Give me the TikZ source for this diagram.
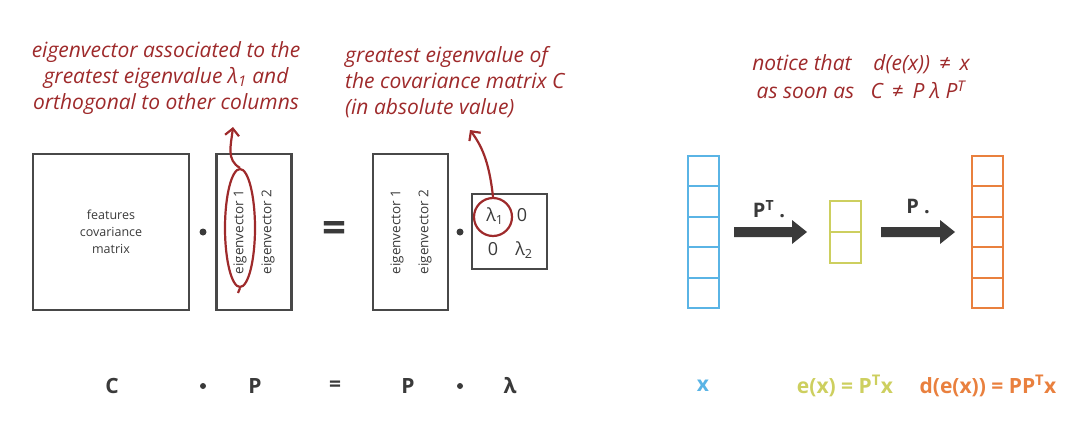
\documentclass[tikz,border=0pt]{standalone}
\usepackage{fontspec}
\setmainfont{Open Sans}
\usetikzlibrary{arrows.meta,calc,shapes.geometric}
\definecolor{hand}{HTML}{9E2A2B}
\definecolor{boxgray}{HTML}{484848}
\definecolor{txt}{HTML}{3A3A3A}
\definecolor{cblue}{HTML}{5AB4E5}
\definecolor{cyellow}{HTML}{CDCF5F}
\definecolor{corange}{HTML}{E9803E}
\begin{document}
\begin{tikzpicture}[x=1pt,y=-1pt,
  mbox/.style={draw=boxgray,line width=2.5pt,inner sep=0pt},
  lbl/.style={text=txt,font=\fontsize{12.5}{17}\selectfont,align=center,inner sep=0pt},
  vlbl/.style={lbl,font=\fontsize{13.5}{17}\selectfont,rotate=90},
  ent/.style={text=txt,font=\fontsize{18}{20}\selectfont,inner sep=0pt},
  eq/.style={text=txt,font=\bfseries\fontsize{21}{24}\selectfont,inner sep=0pt},
  dotnode/.style={circle,fill=txt,inner sep=0pt,minimum size=7pt},
  note/.style={text=hand,font=\itshape\fontsize{21}{26}\selectfont,inner sep=0pt},
  handline/.style={draw=hand,line width=2.2pt},
  handarrow/.style={handline,-{Straight Barb[length=7pt,width=14pt]}},
  col/.style={draw=#1,line width=2pt,inner sep=0pt,minimum width=31pt},
  bigarrow/.style={fill=txt}
]
\useasboundingbox (0,0) rectangle (1080,429);

% left equation boxes
\node[mbox,minimum width=156pt,minimum height=156pt] (C) at (111,232) {};
\node[lbl] (Ct) at (111,232) {features\\covariance\\matrix};
\node[dotnode] (d1) at (203,232) {};
\node[mbox,minimum width=75pt,minimum height=156pt] (P) at (254,232) {};
\node[vlbl] (P1) at (240,232) {eigenvector 1};
\node[vlbl] (P2) at (268,232) {eigenvector 2};
\node[eq,font=\bfseries\fontsize{42}{42}\selectfont] (eqs) at (334,232) {=};
\node[mbox,minimum width=75pt,minimum height=156pt] (Q) at (410.5,232) {};
\node[vlbl] (Q1) at (397,232) {eigenvector 1};
\node[vlbl] (Q2) at (425,232) {eigenvector 2};
\node[dotnode] (d2) at (460,232) {};
\node[mbox,minimum width=75pt,minimum height=75pt] (L) at (509.5,231.5) {};
\node[ent] (l11) at (495,216) {λ\textsubscript{1}};
\node[ent] (l12) at (522,215) {0};
\node[ent] (l21) at (493,249) {0};
\node[ent] (l22) at (524,250) {λ\textsubscript{2}};

% bottom equation
\node[eq] (bC) at (112,386) {C};
\node[dotnode,minimum size=6pt] (bd1) at (203,386) {};
\node[eq] (bP) at (255,386) {P};
\node[eq] (beq) at (335,386) {=};
\node[eq] (bP2) at (408,386) {P};
\node[dotnode,minimum size=6pt] (bd2) at (460,386) {};
\node[eq] (bl) at (510,386) {λ};

% annotations
\node[note,align=center] (n1) at (166,78) {eigenvector associated to the\\greatest eigenvalue λ\textsubscript{1} and\\orthogonal to other columns};
\node[note,align=left,anchor=west] (n2) at (345,82) {greatest eigenvalue of\\the covariance matrix C\\(in absolute value)};
\node[note,align=center,font=\itshape\fontsize{21}{28}\selectfont] (n3) at (861,77) {notice that \ \ \ d(e(x)) \,≠\, x\\as soon as \ \ C \,≠\, P λ P\textsuperscript{T}};

\node[handline,ellipse,minimum width=30pt,minimum height=118pt,inner sep=0pt] (e1) at (240,228) {};
\coordinate (tail1) at (238,293);
\draw[handline] (e1.south) -- (tail1);
\coordinate (t1) at (233,127);
\draw[handarrow] (e1.north) .. controls (226,160) and (231,145) .. (t1);
\node[handline,circle,minimum size=38pt,inner sep=0pt] (c1) at (493,217) {};
\coordinate (t2) at (470,130);
\draw[handarrow] (c1.north) .. controls (489,160) and (481,145) .. (t2);

% right side
\node[col=cblue,minimum height=152pt] (X) at (703.5,232) {};
\foreach \f in {0.2,0.4,0.6,0.8}
  \draw[cblue,line width=2pt] ($(X.north west)!\f!(X.south west)$) -- ($(X.north east)!\f!(X.south east)$);
\node[col=cyellow,minimum height=62pt] (Y) at (845.5,232) {};
\draw[cyellow,line width=2pt] (Y.west) -- (Y.east);
\node[col=corange,minimum height=152pt] (O) at (987.5,232) {};
\foreach \f in {0.2,0.4,0.6,0.8}
  \draw[corange,line width=2pt] ($(O.north west)!\f!(O.south west)$) -- ($(O.north east)!\f!(O.south east)$);

% big arrows (filled outlines from node to node)
\coordinate (a1s) at ([xshift=14pt]X.east);
\coordinate (a1t) at ([xshift=-22pt]Y.west);
\fill[bigarrow] ([yshift=-5pt]a1s) -- ([xshift=-15pt,yshift=-5pt]a1t) -- ([xshift=-15pt,yshift=-12pt]a1t) -- (a1t)
  -- ([xshift=-15pt,yshift=12pt]a1t) -- ([xshift=-15pt,yshift=5pt]a1t) -- ([yshift=5pt]a1s) -- cycle;
\coordinate (a2s) at ([xshift=19pt]Y.east);
\coordinate (a2t) at ([xshift=-16pt]O.west);
\fill[bigarrow] ([yshift=-5pt]a2s) -- ([xshift=-15pt,yshift=-5pt]a2t) -- ([xshift=-15pt,yshift=-12pt]a2t) -- (a2t)
  -- ([xshift=-15pt,yshift=12pt]a2t) -- ([xshift=-15pt,yshift=5pt]a2t) -- ([yshift=5pt]a2s) -- cycle;
\node[eq,font=\bfseries\fontsize{20}{24}\selectfont] (a1) at (769,209) {P\textsuperscript{T} .};
\node[eq,font=\bfseries\fontsize{20}{24}\selectfont] (a2) at (918,206) {P .};

\node[eq,text=cblue] (bx) at (703,386) {x};
\node[eq,text=cyellow] (bex) at (845,386) {e(x) = P\textsuperscript{T}x};
\node[eq,text=corange] (bdx) at (988,386) {d(e(x)) = PP\textsuperscript{T}x};
\end{tikzpicture}
\end{document}
